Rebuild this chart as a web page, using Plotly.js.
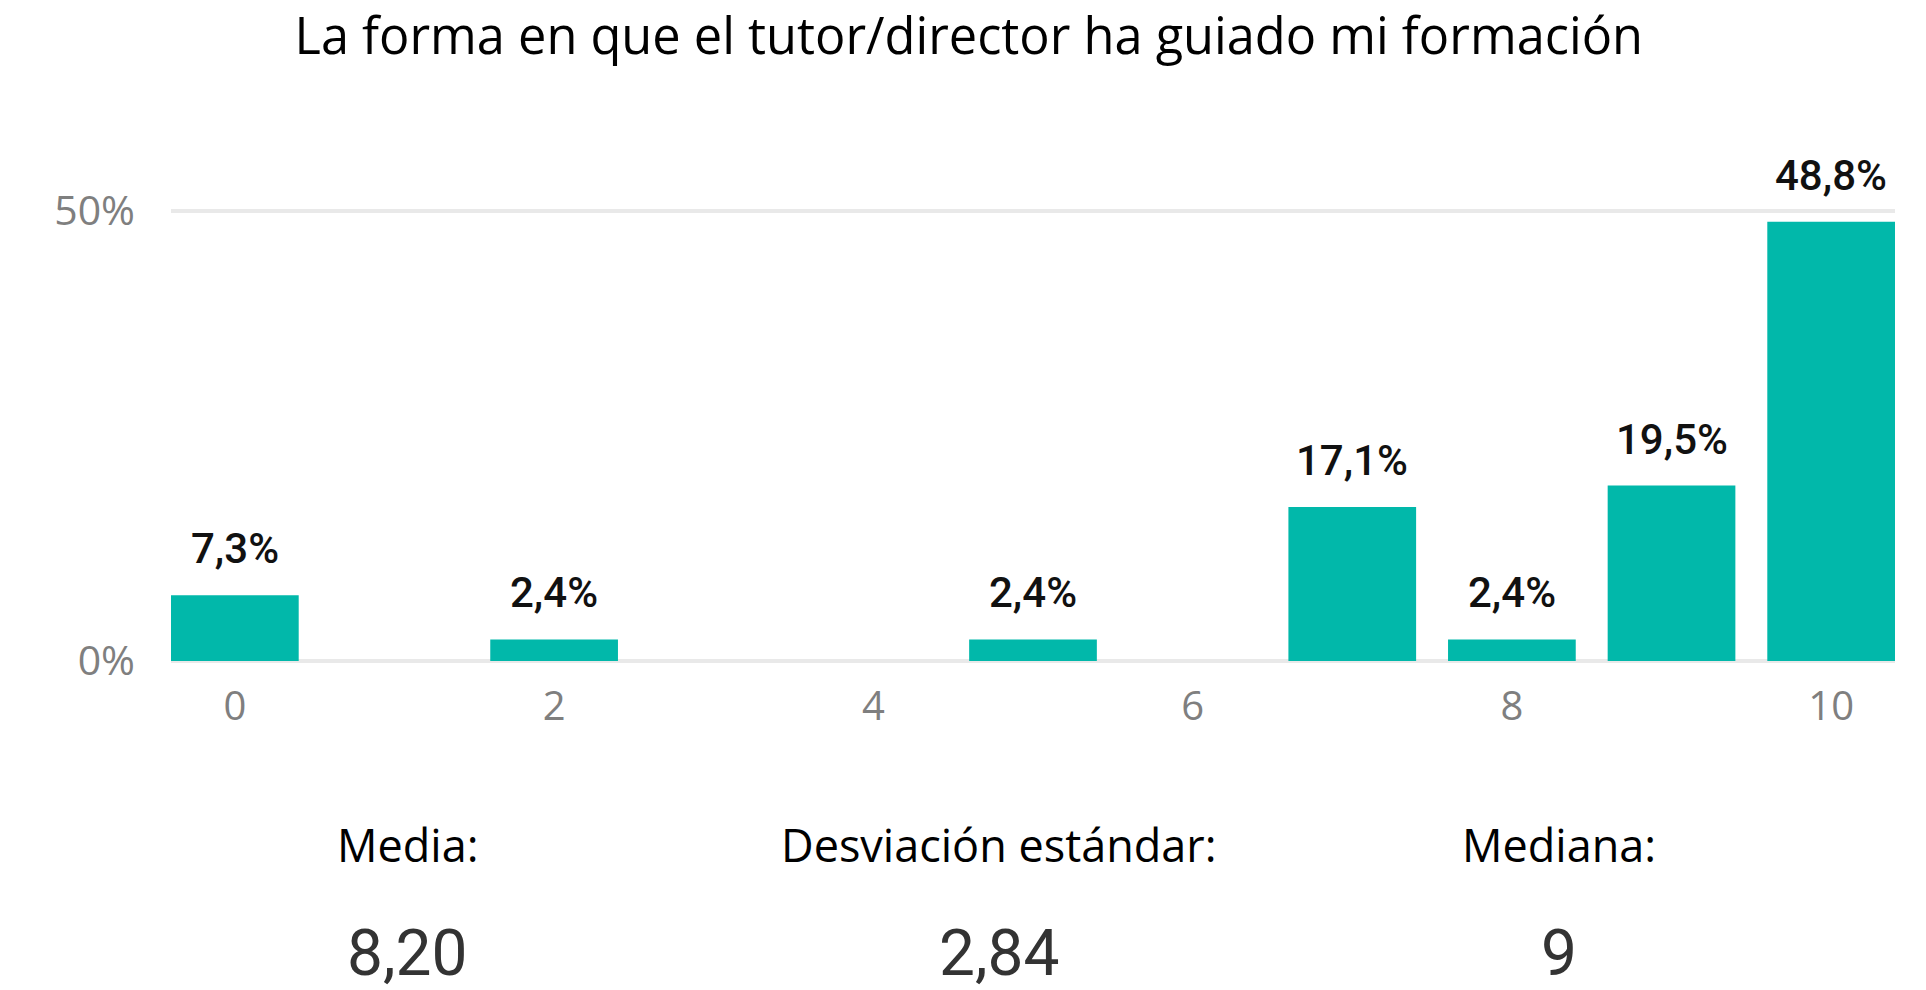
<!DOCTYPE html>
<html>
<head>
<meta charset="utf-8">
<script src="https://cdn.plot.ly/plotly-3.0.1.min.js"></script>
<style>
html,body{margin:0;padding:0;background:#fff;}
#chart{width:1926px;height:990px;}
</style>
</head>
<body>
<div id="chart"></div>
<script>
// Data
const categories = [0, 1, 2, 3, 4, 5, 6, 7, 8, 9, 10];
const percentages = [7.3, 0, 2.4, 0, 0, 2.4, 0, 17.1, 2.4, 19.5, 48.8];
const xTickVals = [0, 2, 4, 6, 8, 10];
const yTickVals = [0, 50];
const yTickText = ['0%', '50%'];
const chartTitle = 'La forma en que el tutor/director ha guiado mi formación';
const statLabels = ['Media:', 'Desviación estándar:', 'Mediana:'];
const statValues = ['8,20', '2,84', '9'];

const fmt = v => v.toFixed(1).replace('.', ',') + '%';

const barTrace = {
  type: 'bar',
  x: categories,
  y: percentages,
  marker: {color: '#01B8AA'},
  hoverinfo: 'skip'
};

const annotations = [];
categories.forEach((c, i) => {
  if (percentages[i] > 0) {
    annotations.push({
      x: c, y: percentages[i], xref: 'x', yref: 'y',
      text: fmt(percentages[i]),
      showarrow: false, yanchor: 'bottom', yshift: 20,
      font: {family: 'Roboto', size: 42, color: '#111111', weight: 500}
    });
  }
});

const statX = [0.137, 0.4803, 0.8051];
statLabels.forEach((lab, i) => {
  annotations.push({
    x: statX[i], y: -0.37, xref: 'paper', yref: 'paper',
    text: lab, showarrow: false, xanchor: 'center', yanchor: 'middle',
    font: {family: 'Open Sans', size: 45, color: '#000000'}
  });
  annotations.push({
    x: statX[i], y: -0.59, xref: 'paper', yref: 'paper',
    text: statValues[i], showarrow: false, xanchor: 'center', yanchor: 'middle',
    font: {family: 'Roboto', size: 64, color: '#333333'}
  });
});

const layout = {
  width: 1926, height: 990,
  margin: {l: 171, r: 31, t: 166, b: 329, pad: 0},
  paper_bgcolor: '#ffffff', plot_bgcolor: '#ffffff',
  showlegend: false,
  bargap: 0.2,
  title: {
    text: chartTitle,
    x: 0.503, xref: 'container', xanchor: 'center',
    y: 0.963, yref: 'container', yanchor: 'middle',
    font: {family: 'Open Sans', size: 50.5, color: '#000000'}
  },
  xaxis: {
    range: [-0.4, 10.4],
    tickmode: 'array', tickvals: xTickVals,
    ticks: '', showgrid: false, zeroline: false, showline: false,
    ticklabelstandoff: 18,
    tickfont: {family: 'Open Sans', size: 40, color: '#7f7f7f'},
    fixedrange: true
  },
  yaxis: {
    range: [0, 55],
    tickmode: 'array', tickvals: yTickVals, ticktext: yTickText,
    ticks: '', showgrid: true, gridcolor: '#e9e9e9', gridwidth: 4,
    zeroline: true, zerolinecolor: '#e9e9e9', zerolinewidth: 4,
    showline: false,
    ticklabelstandoff: 35,
    tickfont: {family: 'Open Sans', size: 41, color: '#7f7f7f'},
    fixedrange: true
  },
  annotations: annotations
};

Plotly.newPlot('chart', [barTrace], layout, {displayModeBar: false, staticPlot: true});
</script>
</body>
</html>
